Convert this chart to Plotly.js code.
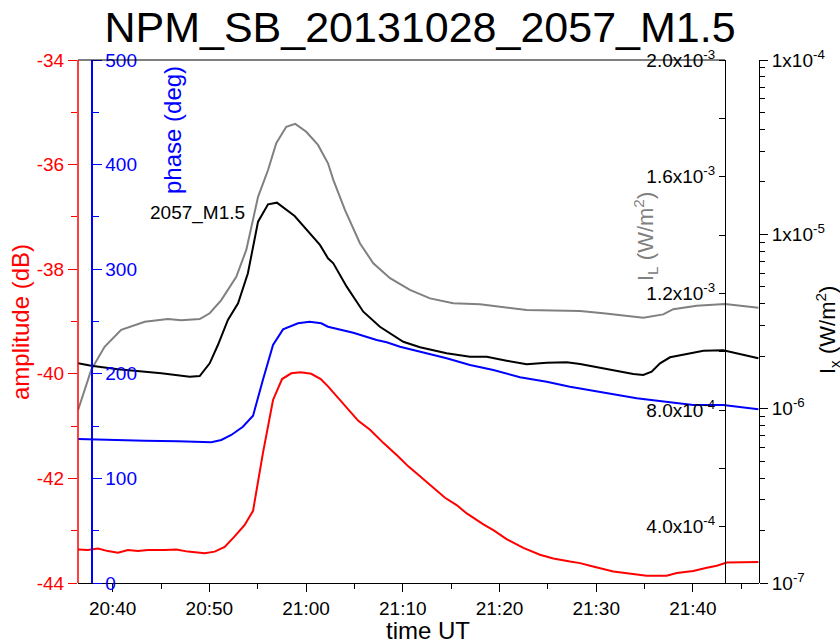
<!DOCTYPE html>
<html>
<head>
<meta charset="utf-8">
<script src="https://cdn.plot.ly/plotly-3.0.1.min.js"></script>
<style>html,body{margin:0;padding:0;background:#fff;}#chart{width:840px;height:643px;}</style>
</head>
<body>
<div id="chart"></div>
<script>
// times are minutes after 20:00 UT on 2013-10-28
const ampTime = [36.41,37.45,38.48,39.51,40.55,41.58,42.62,43.65,45.38,46.58,47.79,49.51,50.55,51.58,52.62,53.65,54.51,55.54,56.58,57.51,58.47,59.44,60.54,61.51,62.26,63.51,65.40,66.61,67.98,69.53,70.57,71.60,72.99,74.36,75.57,76.61,78.33,79.36,80.74,82.46,84.19,85.56,87.29,88.33,89.36,91.77,95.22,97.29,98.33,100.04,101.43,102.46,103.50,106.76];
const amplitude = [-43.36,-43.37,-43.34,-43.39,-43.42,-43.37,-43.39,-43.37,-43.37,-43.36,-43.40,-43.43,-43.40,-43.31,-43.11,-42.89,-42.62,-41.52,-40.50,-40.10,-39.99,-39.97,-40.00,-40.10,-40.24,-40.50,-40.90,-41.07,-41.32,-41.58,-41.77,-41.93,-42.15,-42.37,-42.51,-42.67,-42.88,-42.99,-43.16,-43.33,-43.46,-43.53,-43.59,-43.62,-43.67,-43.78,-43.86,-43.86,-43.81,-43.77,-43.71,-43.67,-43.61,-43.60];

const phaseTime = [36.41,39.86,43.31,46.75,50.20,51.23,52.26,53.47,54.51,55.54,56.58,57.61,59.16,60.37,61.57,62.26,64.88,67.30,68.34,69.71,71.78,74.54,76.95,79.36,82.12,84.88,87.29,90.73,94.19,97.63,100.04,103.14,106.76];
const phase = [137.7,136.7,136.0,135.5,134.5,136.7,141.5,149.4,159.9,194.1,227.5,242.5,248.3,249.8,248.3,245.0,239.3,232.3,230.1,225.9,221.1,214.8,208.4,203.6,196.7,192.5,187.7,182.3,176.6,172.8,170.2,170.2,166.1];

const ilTime = [36.41,37.79,39.17,40.89,43.31,45.72,47.09,49.00,50.03,51.23,52.78,53.82,55.03,56.06,56.92,57.95,58.88,60.02,61.23,62.26,62.81,64.02,65.57,66.95,68.68,70.74,72.81,75.22,77.98,80.05,82.81,85.56,88.33,90.73,94.87,96.94,97.97,100.39,103.32,106.76];
const iL = [0.800e-3,0.938e-3,1.017e-3,1.075e-3,1.103e-3,1.112e-3,1.108e-3,1.112e-3,1.132e-3,1.177e-3,1.257e-3,1.349e-3,1.531e-3,1.623e-3,1.715e-3,1.771e-3,1.781e-3,1.754e-3,1.709e-3,1.646e-3,1.589e-3,1.486e-3,1.372e-3,1.303e-3,1.252e-3,1.212e-3,1.183e-3,1.166e-3,1.163e-3,1.154e-3,1.143e-3,1.141e-3,1.140e-3,1.132e-3,1.117e-3,1.128e-3,1.146e-3,1.158e-3,1.164e-3,1.151e-3];

const ixTime = [36.41,37.79,40.55,45.03,47.96,49.00,50.03,50.89,51.92,52.96,53.99,55.03,56.06,56.99,58.82,60.54,61.44,62.26,62.81,64.20,65.92,67.64,70.05,71.78,74.54,76.95,78.68,80.74,82.81,84.88,86.95,88.33,90.73,93.84,94.87,95.74,96.60,97.63,99.36,101.08,103.14,104.53,106.76];
const iX = [1.821e-6,1.764e-6,1.681e-6,1.595e-6,1.525e-6,1.539e-6,1.821e-6,2.318e-6,3.226e-6,4.022e-6,5.976e-6,1.182e-5,1.487e-5,1.519e-5,1.274e-5,9.91e-6,8.69e-6,7.29e-6,6.82e-6,5.01e-6,3.60e-6,2.95e-6,2.42e-6,2.25e-6,2.08e-6,1.986e-6,1.986e-6,1.884e-6,1.796e-6,1.835e-6,1.845e-6,1.804e-6,1.695e-6,1.580e-6,1.560e-6,1.629e-6,1.821e-6,1.971e-6,2.058e-6,2.150e-6,2.162e-6,2.078e-6,1.945e-6];

const xTickMinutes = [40,50,60,70,80,90,100];
const xTickText = ['20:40','20:50','21:00','21:10','21:20','21:30','21:40'];
const ampTicks = [-44,-42,-40,-38,-36,-34];
const ampTickText = ['-44','-42','-40','-38','-36','-34'];
const phaseTicks = [0,100,200,300,400,500];
const ilTicks = [0.4e-3,0.8e-3,1.2e-3,1.6e-3,2.0e-3];
const ilTickText = ['4.0x10<sup>-4</sup>','8.0x10<sup>-4</sup>','1.2x10<sup>-3</sup>','1.6x10<sup>-3</sup>','2.0x10<sup>-3</sup>'];
const ixTicks = [1e-7,1e-6,1e-5,1e-4];
const ixTickText = ['10<sup>-7</sup>','10<sup>-6</sup>','1x10<sup>-5</sup>','1x10<sup>-4</sup>'];

function toDate(m){
  const s = Math.round(m*60);
  const h = 20 + Math.floor(s/3600);
  const mm = Math.floor((s%3600)/60);
  const ss = s%60;
  const p = n => String(n).padStart(2,'0');
  return '2013-10-28 ' + p(h) + ':' + p(mm) + ':' + p(ss);
}
const dates = a => a.map(toDate);

const minorLog = [];
[1e-7,1e-6,1e-5].forEach(d => { for (let k=2;k<=9;k++) minorLog.push(k*d); });

const FONT = 'Arial, "Liberation Sans", sans-serif';

const traces = [
  {x: dates(ilTime), y: iL, yaxis:'y3', mode:'lines', line:{color:'#808080', width:2}, name:'IL'},
  {x: dates(ixTime), y: iX, yaxis:'y4', mode:'lines', line:{color:'#000000', width:2}, name:'IX'},
  {x: dates(phaseTime), y: phase, yaxis:'y2', mode:'lines', line:{color:'#0000ff', width:2}, name:'phase'},
  {x: dates(ampTime), y: amplitude, yaxis:'y', mode:'lines', line:{color:'#ff0000', width:2}, name:'amplitude'}
];

const layout = {
  width: 840, height: 643,
  margin: {l:78, r:81, t:60, b:60},
  paper_bgcolor:'#fff', plot_bgcolor:'#fff',
  showlegend:false,
  font:{family:FONT, size:19, color:'#000'},
  title:{text:'NPM_SB_20131028_2057_M1.5', font:{family:FONT, size:43, color:'#000'}, xref:'container', x:0.5, xanchor:'center', yref:'container', y:0.958, yanchor:'middle'},
  xaxis:{
    type:'date', domain:[0,1], anchor:'y',
    range:[toDate(36.41), toDate(106.84)],
    tickmode:'array', tickvals: dates(xTickMinutes), ticktext: xTickText,
    ticks:'outside', ticklen:8, tickcolor:'#000', tickwidth:1,
    minor:{dtick:300000, tick0: toDate(40), ticks:'outside', ticklen:5, tickcolor:'#000'},
    showline:true, linecolor:'#000', linewidth:1, showgrid:false, zeroline:false,
    tickfont:{family:FONT, size:19, color:'#000'}
  },
  yaxis:{
    range:[-44,-34], anchor:'x', side:'left',
    tickmode:'array', tickvals: ampTicks, ticktext: ampTickText,
    ticks:'outside', ticklen:9, tickcolor:'#ff0000',
    minor:{dtick:1, tick0:-44, ticks:'outside', ticklen:6, tickcolor:'#ff0000'},
    showline:false, showgrid:false, zeroline:false,
    tickfont:{family:FONT, size:19, color:'#ff0000'}
  },
  yaxis2:{
    range:[0,500], overlaying:'y', anchor:'free', position:13/681, side:'right',
    tickmode:'array', tickvals: phaseTicks,
    ticks:'outside', ticklen:9, tickcolor:'#0000ff',
    minor:{dtick:50, tick0:0, ticks:'outside', ticklen:6, tickcolor:'#0000ff'},
    showline:true, linecolor:'#0000ff', linewidth:1.5, showgrid:false, zeroline:false,
    tickfont:{family:FONT, size:19, color:'#0000ff'}
  },
  yaxis3:{
    range:[0.2074e-3, 2.0e-3], overlaying:'y', anchor:'free', position:647/681, side:'left',
    tickmode:'array', tickvals: ilTicks, ticktext: ilTickText,
    ticks:'outside', ticklen:6, tickcolor:'#000',
    minor:{dtick:0.2e-3, tick0:0, ticks:'outside', ticklen:6, tickcolor:'#000'},
    showline:true, linecolor:'#000', linewidth:1, showgrid:false, zeroline:false,
    tickfont:{family:FONT, size:19, color:'#000'}
  },
  yaxis4:{
    type:'log', range:[-7,-4], overlaying:'y', anchor:'free', position:1, side:'right',
    tickmode:'array', tickvals: ixTicks, ticktext: ixTickText,
    ticks:'outside', ticklen:8, tickcolor:'#000',
    minor:{tickmode:'array', tickvals: minorLog, ticks:'outside', ticklen:5, tickcolor:'#000'},
    showline:true, linecolor:'#000', linewidth:1, showgrid:false, zeroline:false,
    tickfont:{family:FONT, size:19, color:'#000'}
  },
  shapes:[
    {type:'line', xref:'paper', yref:'paper', x0:0, x1:647/681, y0:1, y1:1, line:{color:'#000', width:1}},
    {type:'line', xref:'paper', yref:'paper', x0:0, x1:0, y0:0, y1:1, line:{color:'#ff0000', width:1.5}}
  ],
  annotations:[
    {text:'amplitude (dB)', textangle:-90, xref:'paper', yref:'paper', x:(20-78)/681, y:(583-322)/523, xanchor:'center', yanchor:'middle', showarrow:false, font:{family:FONT, size:24, color:'#ff0000'}},
    {text:'phase (deg)', textangle:-90, xref:'paper', yref:'paper', x:(172-78)/681, y:(583-130)/523, xanchor:'center', yanchor:'middle', showarrow:false, font:{family:FONT, size:24, color:'#0000ff'}},
    {text:'I<sub>L</sub> (W/m<sup>2</sup>)', textangle:-90, xref:'paper', yref:'paper', x:(645-78)/681, y:(583-237)/523, xanchor:'center', yanchor:'middle', showarrow:false, font:{family:FONT, size:22, color:'#808080'}},
    {text:'I<sub>x</sub> (W/m<sup>2</sup>)', textangle:-90, xref:'paper', yref:'paper', x:(827-78)/681, y:(583-330)/523, xanchor:'center', yanchor:'middle', showarrow:false, font:{family:FONT, size:22, color:'#000'}},
    {text:'2057_M1.5', xref:'paper', yref:'paper', x:(197-78)/681, y:(583-213)/523, xanchor:'center', yanchor:'middle', showarrow:false, font:{family:FONT, size:19, color:'#000'}},
    {text:'time UT', xref:'paper', yref:'paper', x:(428-78)/681, y:(583-630)/523, xanchor:'center', yanchor:'middle', showarrow:false, font:{family:FONT, size:24, color:'#000'}}
  ]
};

Plotly.newPlot('chart', traces, layout, {staticPlot:true, displayModeBar:false});
</script>
</body>
</html>
